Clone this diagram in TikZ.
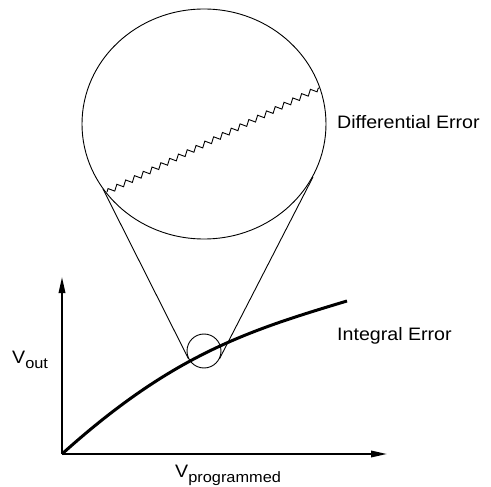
\documentclass[tikz,border=0pt]{standalone}
\usepackage{fontspec}
\setmainfont{Liberation Sans}
\usetikzlibrary{arrows.meta,decorations.pathmorphing,shapes.geometric}
\newcommand{\lbl}[1]{\scalebox{1.09}[1]{\fontsize{18}{21}\selectfont #1}}
\newcommand{\subt}[1]{\raisebox{-5.5pt}{\fontsize{15}{17}\selectfont #1}}
\tikzset{
  thinline/.style={line width=0.9pt},
  axisline/.style={line width=1.8pt,-{Triangle[length=16pt,width=6.5pt]}},
  curveline/.style={line width=3pt},
  txt/.style={inner sep=0pt,anchor=base west},
}
\begin{document}
\begin{tikzpicture}[x=1pt,y=-1pt]
\useasboundingbox (0,0) rectangle (491,487);
% big magnified ellipse
\node[draw,thinline,ellipse,minimum width=244pt,minimum height=230pt,inner sep=0pt] (big) at (204,124) {};
% small circle
\node[draw,thinline,circle,minimum size=34pt,inner sep=0pt] (small) at (204,351) {};
% cone
\coordinate (l1) at (103,189);
\coordinate (l2) at (188.5,358.8);
\coordinate (r1) at (313,177);
\coordinate (r2) at (219.5,358.8);
\draw[thinline] (l1) -- (l2);
\draw[thinline] (r1) -- (r2);
% zigzag
\coordinate (z1) at (107,192);
\coordinate (z2) at (319,88);
\draw[thinline,decorate,decoration={zigzag,segment length=9.8pt,amplitude=2.6pt}] (z1) -- (z2);
% axes
\coordinate (o) at (62,454);
\coordinate (yt) at (62,277);
\coordinate (xt) at (387,454);
\draw[axisline] (o) -- (yt);
\draw[axisline] (o) -- (xt);
% curve
\coordinate (ce) at (347,301);
\draw[curveline] (o) .. controls (172,355) and (247,331) .. (ce);
% labels
\node[txt] (de) at (337,129) {\lbl{Differential Error}};
\node[txt] (ie) at (337,340) {\lbl{Integral Error}};
\node[txt] (vo) at (12,363) {\lbl{V\subt{out}}};
\node[txt] (vp) at (175,477) {\lbl{V\subt{programmed}}};
\end{tikzpicture}
\end{document}
